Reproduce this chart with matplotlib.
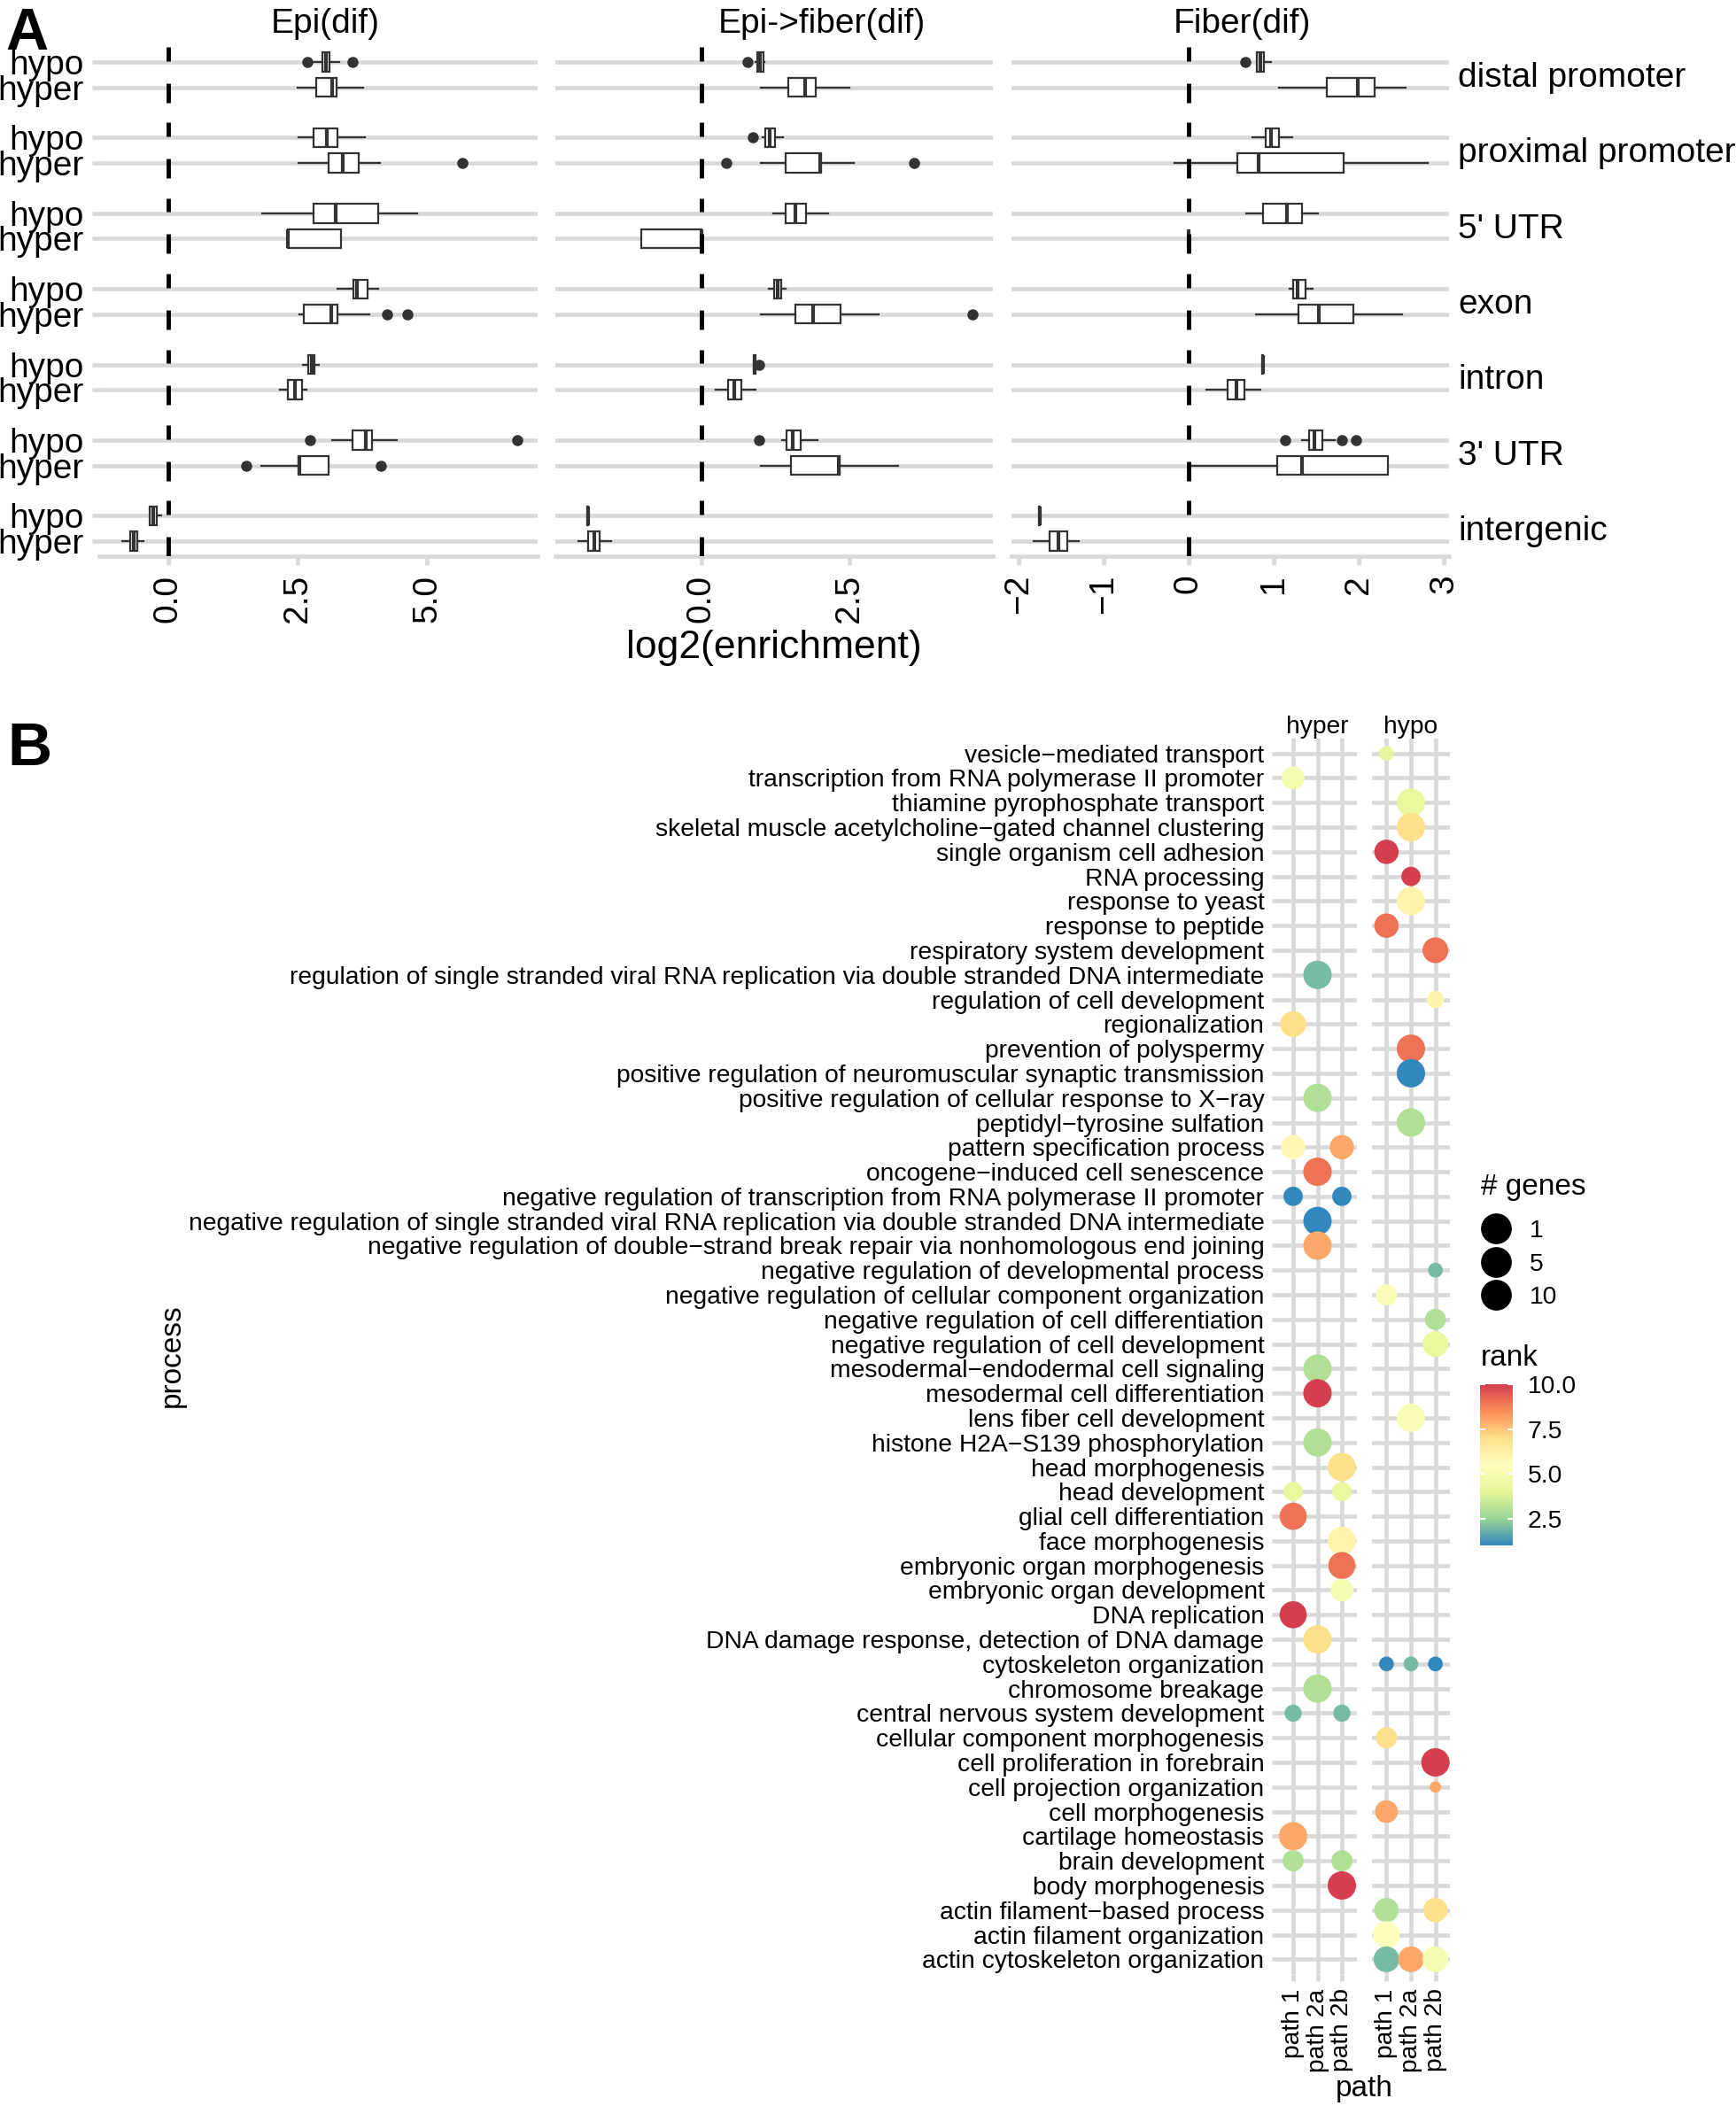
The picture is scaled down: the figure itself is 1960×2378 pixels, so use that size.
import numpy as np
import matplotlib
matplotlib.use('Agg')
import matplotlib.pyplot as plt
import matplotlib.transforms as mtransforms
from matplotlib.colors import LinearSegmentedColormap, Normalize
from matplotlib.cm import ScalarMappable
from matplotlib.lines import Line2D

plt.rcParams['font.family'] = ['Liberation Sans', 'DejaVu Sans']
plt.rcParams['lines.scale_dashes'] = False

# ---------------- panel A data ----------------
regions = ['distal promoter', 'proximal promoter', "5' UTR", 'exon', 'intron', "3' UTR", 'intergenic']
stages = ['Epi(dif)', 'Epi->fiber(dif)', 'Fiber(dif)']
row_labels = ['hypo', 'hyper']

# (whisker low, q1, median, q3, whisker high), hypo then hyper for every region
epi_box = [
    (2.80, 2.97, 3.04, 3.12, 3.31), (2.50, 2.85, 3.16, 3.25, 3.77),
    (2.52, 2.80, 3.06, 3.27, 3.79), (2.52, 3.09, 3.37, 3.68, 4.08),
    (1.82, 2.81, 3.23, 4.06, 4.80), (2.31, 2.31, 2.31, 3.33, 3.33),
    (3.26, 3.58, 3.64, 3.85, 4.06), (2.53, 2.62, 3.14, 3.27, 3.88),
    (2.60, 2.70, 2.77, 2.82, 2.91), (2.15, 2.31, 2.45, 2.58, 2.67),
    (3.16, 3.56, 3.81, 3.93, 4.41), (1.79, 2.51, 2.53, 3.10, 3.10),
    (-0.36, -0.35, -0.29, -0.22, -0.14), (-0.88, -0.74, -0.67, -0.59, -0.47),
]
epi_out = [[2.69, 3.55], [], [], [5.68], [], [], [], [4.22, 4.62],
           [], [], [2.73, 6.73], [1.50, 4.10], [], []]

ef_box = [
    (0.92, 0.94, 0.99, 1.05, 1.06), (1.01, 1.47, 1.76, 1.93, 2.50),
    (1.03, 1.08, 1.16, 1.25, 1.38), (1.01, 1.42, 2.01, 2.02, 2.58),
    (1.21, 1.42, 1.59, 1.77, 2.15), (-1.01, -1.01, 0.0, 0.0, 0.0),
    (1.14, 1.23, 1.29, 1.35, 1.43), (1.01, 1.59, 1.89, 2.35, 3.00),
    (0.88, 0.88, 0.90, 0.92, 0.92), (0.24, 0.45, 0.55, 0.67, 0.91),
    (1.37, 1.44, 1.54, 1.68, 1.97), (1.01, 1.52, 2.33, 2.34, 3.32),
    (-1.93, -1.93, -1.92, -1.91, -1.91), (-2.08, -1.91, -1.81, -1.72, -1.52),
]
ef_out = [[0.78], [], [0.87], [0.42, 3.59], [], [], [], [4.58],
          [0.97], [], [0.97], [], [], []]

fib_box = [
    (0.80, 0.80, 0.84, 0.89, 0.97), (1.06, 1.62, 1.99, 2.19, 2.55),
    (0.75, 0.91, 0.97, 1.06, 1.22), (-0.17, 0.57, 0.82, 1.82, 2.81),
    (0.68, 0.87, 1.16, 1.33, 1.52), (0.0, 0.0, 0.0, 0.0, 0.0),
    (1.19, 1.23, 1.28, 1.37, 1.46), (0.79, 1.29, 1.53, 1.94, 2.51),
    (0.86, 0.86, 0.87, 0.87, 0.88), (0.21, 0.46, 0.56, 0.66, 0.84),
    (1.33, 1.42, 1.48, 1.57, 1.72), (0.0, 1.04, 1.33, 2.34, 2.34),
    (-1.76, -1.76, -1.75, -1.75, -1.74), (-1.82, -1.63, -1.53, -1.42, -1.29),
]
fib_out = [[0.67], [], [], [], [], [], [], [],
           [], [], [1.14, 1.80, 1.97], [], [], []]

a_ticks = [[0, 2.5, 5.0], [0, 2.5], [-2, -1, 0, 1, 2, 3]]
a_ticklabels = [['0.0', '2.5', '5.0'], ['0.0', '2.5'], ['−2', '−1', '0', '1', '2', '3']]

# ---------------- panel B data ----------------
processes = [
    'vesicle−mediated transport',
    'transcription from RNA polymerase II promoter',
    'thiamine pyrophosphate transport',
    'skeletal muscle acetylcholine−gated channel clustering',
    'single organism cell adhesion',
    'RNA processing',
    'response to yeast',
    'response to peptide',
    'respiratory system development',
    'regulation of single stranded viral RNA replication via double stranded DNA intermediate',
    'regulation of cell development',
    'regionalization',
    'prevention of polyspermy',
    'positive regulation of neuromuscular synaptic transmission',
    'positive regulation of cellular response to X−ray',
    'peptidyl−tyrosine sulfation',
    'pattern specification process',
    'oncogene−induced cell senescence',
    'negative regulation of transcription from RNA polymerase II promoter',
    'negative regulation of single stranded viral RNA replication via double stranded DNA intermediate',
    'negative regulation of double−strand break repair via nonhomologous end joining',
    'negative regulation of developmental process',
    'negative regulation of cellular component organization',
    'negative regulation of cell differentiation',
    'negative regulation of cell development',
    'mesodermal−endodermal cell signaling',
    'mesodermal cell differentiation',
    'lens fiber cell development',
    'histone H2A−S139 phosphorylation',
    'head morphogenesis',
    'head development',
    'glial cell differentiation',
    'face morphogenesis',
    'embryonic organ morphogenesis',
    'embryonic organ development',
    'DNA replication',
    'DNA damage response, detection of DNA damage',
    'cytoskeleton organization',
    'chromosome breakage',
    'central nervous system development',
    'cellular component morphogenesis',
    'cell proliferation in forebrain',
    'cell projection organization',
    'cell morphogenesis',
    'cartilage homeostasis',
    'brain development',
    'body morphogenesis',
    'actin filament−based process',
    'actin filament organization',
    'actin cytoskeleton organization',
]
sets = ['hyper', 'hypo']
paths = ['path 1', 'path 2a', 'path 2b']

# one entry per dot: row in processes (1-based), set, path, # genes, rank
dot_row = [1, 2, 3, 4, 5, 6, 7, 8, 9, 10,
           11, 12, 13, 14, 15, 16, 17, 17, 18, 19,
           19, 20, 21, 22, 23, 24, 25, 26, 27, 28,
           29, 30, 31, 31, 32, 33, 34, 35, 36, 37,
           38, 38, 38, 39, 40, 40, 41, 42, 43, 44,
           45, 46, 46, 47, 48, 48, 49, 50, 50, 50]
dot_set = ['hypo', 'hyper', 'hypo', 'hypo', 'hypo', 'hypo', 'hypo', 'hypo', 'hypo', 'hyper',
           'hypo', 'hyper', 'hypo', 'hypo', 'hyper', 'hypo', 'hyper', 'hyper', 'hyper', 'hyper',
           'hyper', 'hyper', 'hyper', 'hypo', 'hypo', 'hypo', 'hypo', 'hyper', 'hyper', 'hypo',
           'hyper', 'hyper', 'hyper', 'hyper', 'hyper', 'hyper', 'hyper', 'hyper', 'hyper', 'hyper',
           'hypo', 'hypo', 'hypo', 'hyper', 'hyper', 'hyper', 'hypo', 'hypo', 'hypo', 'hypo',
           'hyper', 'hyper', 'hyper', 'hyper', 'hypo', 'hypo', 'hypo', 'hypo', 'hypo', 'hypo']
dot_path = ['path 1', 'path 1', 'path 2a', 'path 2a', 'path 1', 'path 2a', 'path 2a', 'path 1', 'path 2b', 'path 2a',
            'path 2b', 'path 1', 'path 2a', 'path 2a', 'path 2a', 'path 2a', 'path 1', 'path 2b', 'path 2a', 'path 1',
            'path 2b', 'path 2a', 'path 2a', 'path 2b', 'path 1', 'path 2b', 'path 2b', 'path 2a', 'path 2a', 'path 2a',
            'path 2a', 'path 2b', 'path 1', 'path 2b', 'path 1', 'path 2b', 'path 2b', 'path 2b', 'path 1', 'path 2a',
            'path 1', 'path 2a', 'path 2b', 'path 2a', 'path 1', 'path 2b', 'path 1', 'path 2b', 'path 2b', 'path 1',
            'path 1', 'path 1', 'path 2b', 'path 2b', 'path 1', 'path 2b', 'path 1', 'path 1', 'path 2a', 'path 2b']
dot_genes = [2, 6, 10, 10, 7, 4, 10, 7, 8, 10,
             3, 8, 10, 10, 10, 10, 7, 7, 10, 4,
             4, 10, 10, 2, 5, 5, 8, 10, 10, 10,
             10, 10, 4, 4, 9, 10, 9, 6, 9, 10,
             2, 2, 2, 10, 3, 3, 5, 10, 1, 6,
             10, 5, 5, 10, 7, 7, 9, 8, 8, 8]
dot_rank = [4.2, 5.0, 4.3, 7.0, 10, 10, 6.0, 9.0, 9.0, 2.0,
            6.0, 7.0, 9.0, 1.0, 3.0, 3.0, 5.8, 8.0, 9.0, 1.0,
            1.0, 1.0, 8.0, 2.0, 5.2, 3.0, 4.3, 3.0, 10, 5.2,
            3.0, 7.0, 4.3, 4.3, 9.0, 6.0, 9.0, 5.0, 10, 7.0,
            1.0, 2.0, 1.0, 3.0, 2.0, 2.0, 7.0, 10, 8.0, 8.0,
            8.0, 3.0, 3.0, 10, 3.0, 7.0, 5.5, 2.0, 8.0, 5.0]
legend_genes = [1, 5, 10]
rank_ticks = [2.5, 5.0, 7.5, 10.0]

# ---------------- figure ----------------
W, H = 1960, 2378
fig = plt.figure(figsize=(W / 100, H / 100), dpi=100)


def px_axes(x0, y0, x1, y1):
    return fig.add_axes([x0 / W, 1 - y1 / H, (x1 - x0) / W, (y1 - y0) / H])


grid_col = '#D9D9D9'
box_col = '#333333'
fs_a = 28

# panel A
a_boxes = [epi_box, ef_box, fib_box]
a_outs = [epi_out, ef_out, fib_out]
a_cols = [(112, 607), (627, 1121), (1142, 1636)]
a_lims = [(-1.33, 7.13), (-2.47, 4.93), (-2.08, 3.06)]
a_title_x = [367, 928, 1402]
pos = [3 * i + k for i in range(len(regions)) for k in range(2)]

for j in range(3):
    ax = px_axes(a_cols[j][0], 53, a_cols[j][1], 628)
    stats = [dict(whislo=b[0], q1=b[1], med=b[2], q3=b[3], whishi=b[4], fliers=f)
             for b, f in zip(a_boxes[j], a_outs[j])]
    ax.bxp(stats, positions=pos, widths=0.75, orientation='horizontal', showcaps=False,
           patch_artist=True, manage_ticks=False,
           boxprops=dict(facecolor='white', edgecolor=box_col, lw=1.6),
           medianprops=dict(color=box_col, lw=3),
           whiskerprops=dict(color=box_col, lw=1.6),
           flierprops=dict(marker='o', markerfacecolor=box_col, markeredgecolor=box_col,
                           markersize=8))
    for i in range(len(regions)):
        ax.plot([0, 0], [3 * i + 1.6, 3 * i - 0.6], color='black', lw=3.5,
                ls=(0, (15.8, 18)), dash_capstyle='butt', zorder=4)
    ax.set_xlim(*a_lims[j])
    ax.set_ylim(3 * len(regions) - 1.4, -0.6)
    ax.set_yticks(pos)
    ax.yaxis.grid(True, color=grid_col, lw=3.3)
    ax.set_axisbelow(True)
    for s in ['top', 'right', 'left']:
        ax.spines[s].set_visible(False)
    ax.spines['bottom'].set_color(grid_col)
    ax.spines['bottom'].set_linewidth(3.3)
    ax.set_xticks(a_ticks[j])
    ax.set_xticklabels(a_ticklabels[j], rotation=90, fontsize=fs_a)
    ax.tick_params(axis='x', length=7, width=3.3, color=grid_col, pad=8)
    if j == 0:
        ax.set_yticklabels(row_labels * len(regions), fontsize=fs_a)
        ax.tick_params(axis='y', length=5.8, width=3.3, color=grid_col, pad=7)
    else:
        ax.set_yticklabels([])
        ax.tick_params(axis='y', length=0)
    if j == 2:
        tr = mtransforms.blended_transform_factory(ax.transAxes, ax.transData)
        for i, r in enumerate(regions):
            ax.text(1.0202, 3 * i + 0.62, r, transform=tr, ha='left', va='center', fontsize=fs_a)
    fig.text(a_title_x[j] / W, 1 - 27 / H, stages[j], ha='center', va='center', fontsize=fs_a)

fig.text(874 / W, 1 - 732 / H, 'log2(enrichment)', ha='center', va='center', fontsize=32)
fig.text(6 / W, 1 - 56 / H, 'A', ha='left', va='baseline', fontsize=48, fontweight='bold')

# panel B
spectral7 = ['#3288BD', '#99D594', '#E6F598', '#FFFFBF', '#FEE08B', '#FC8D59', '#D53E4F']
cmap = LinearSegmentedColormap.from_list('spectral_r', spectral7)
norm = Normalize(vmin=1, vmax=10)


def dot_size(g):
    d = 13 + (np.sqrt(g) - 1) / (np.sqrt(10) - 1) * 19  # diameter in px
    return (d * 0.72) ** 2


fs_b = 20.3
b_cols = [(1443.5, 1531.5), (1548.8, 1637.2)]
n = len(processes)
for k, name in enumerate(sets):
    ax = px_axes(b_cols[k][0], 834, b_cols[k][1], 2229)
    sel = [i for i in range(len(dot_row)) if dot_set[i] == name]
    ax.scatter([paths.index(dot_path[i]) + 1 for i in sel], [dot_row[i] for i in sel],
               s=[dot_size(dot_genes[i]) for i in sel], c=[dot_rank[i] for i in sel],
               cmap=cmap, norm=norm, linewidths=0, zorder=3)
    ax.set_xlim(0.4, 3.6)
    ax.set_ylim(n + 0.6, 0.4)
    ax.set_xticks([1, 2, 3])
    ax.set_xticklabels(paths, rotation=90, fontsize=fs_b)
    ax.set_yticks(range(1, n + 1))
    ax.grid(True, color=grid_col, lw=3.3)
    ax.set_axisbelow(True)
    for s in ax.spines.values():
        s.set_visible(False)
    ax.tick_params(axis='x', length=5.8, width=3.3, color=grid_col, pad=6)
    if k == 0:
        ax.set_yticklabels(processes, fontsize=fs_b)
        ax.tick_params(axis='y', length=5.8, width=3.3, color=grid_col, pad=5.8)
    else:
        ax.set_yticklabels([])
        ax.tick_params(axis='y', length=0)
    fig.text((b_cols[k][0] + b_cols[k][1]) / 2 / W, 1 - 821 / H, name,
             ha='center', va='center', fontsize=fs_b)

fig.text(194 / W, 1 - 1531 / H, 'process', rotation=90, ha='center', va='center', fontsize=24)
fig.text(1540 / W, 1 - 2358 / H, 'path', ha='center', va='center', fontsize=24)
fig.text(8 / W, 1 - 864 / H, 'B', ha='left', va='baseline', fontsize=50, fontweight='bold')

# size legend (all keys drawn the same size, as in the original)
fig.text(1672 / W, 1 - 1340 / H, '# genes', ha='left', va='center', fontsize=24)
handles = [Line2D([], [], marker='o', ls='', color='black', markersize=24) for g in legend_genes]
fig.legend(handles, [str(g) for g in legend_genes], loc='upper left',
           bbox_to_anchor=(1672 / W, 1 - 1377 / H), frameon=False, fontsize=fs_b,
           handlelength=1.2, handletextpad=0.73, labelspacing=0.41,
           borderpad=0, borderaxespad=0)

# colour bar
fig.text(1672 / W, 1 - 1533 / H, 'rank', ha='left', va='center', fontsize=24)
cax = px_axes(1671, 1563, 1708, 1745)
cb = fig.colorbar(ScalarMappable(norm=norm, cmap=cmap), cax=cax)
cb.outline.set_visible(False)
cb.set_ticks(rank_ticks)
cb.set_ticklabels(['%.1f' % t for t in rank_ticks])
cax.yaxis.set_ticks_position('both')
cax.tick_params(axis='y', direction='in', length=4, width=1.5, colors='white',
                labelcolor='black', labelsize=fs_b, pad=12, labelleft=False, labelright=True)

fig.savefig('out.png', dpi=100)
